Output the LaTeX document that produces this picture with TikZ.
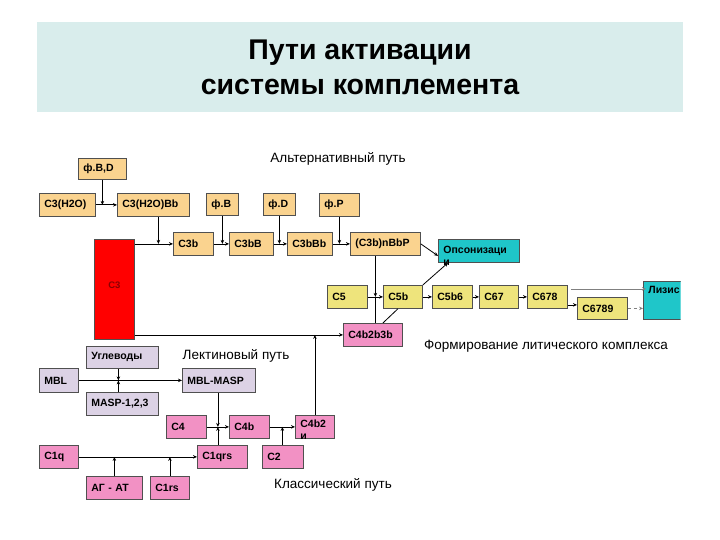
\documentclass[tikz,border=0pt]{standalone}
\usepackage{fontspec}
\setmainfont{Liberation Sans}
\usetikzlibrary{positioning, arrows.meta}
\definecolor{titlebg}{HTML}{D9EDEC}
\definecolor{altfill}{HTML}{FAD38F}
\definecolor{lytfill}{HTML}{EEE47C}
\definecolor{clsfill}{HTML}{F291C4}
\definecolor{lecfill}{HTML}{DCD2E5}
\definecolor{endfill}{HTML}{1FC6C9}
\definecolor{boxline}{HTML}{505050}
\definecolor{c3text}{HTML}{8B0000}
\tikzset{
  cbox/.style={draw=boxline, anchor=north west, inner xsep=5pt, inner ysep=0pt, align=left,
    font=\bfseries\fontsize{10.5}{12.5}\selectfont},
  boxsize/.style 2 args={text width=#1-10, minimum height=#2},
  altbox/.style={cbox, fill=altfill},
  lytbox/.style={cbox, fill=lytfill},
  clsbox/.style={cbox, fill=clsfill},
  lecbox/.style={cbox, fill=lecfill},
  endbox/.style={cbox, fill=endfill},
  pathlabel/.style={inner sep=0pt, font=\fontsize{13.5}{16}\selectfont},
  titleline/.style={anchor=base, inner sep=0pt, font=\bfseries\fontsize{28.5}{35}\selectfont}
}

\begin{document}
\begin{tikzpicture}[x=1pt, y=-1pt, line width=0.8pt, >={Stealth[length=4pt, width=3.5pt]}]

\useasboundingbox (0,0) rectangle (720,540);
\fill[titlebg] (37,22) rectangle (683,112);
\node[titleline] (title1) at (360,60) {Пути активации};
\node[titleline] (title2) at (360,95) {системы комплемента};

\node[pathlabel] (altlabel) at (338,159) {Альтернативный путь};
\node[pathlabel] (leclabel) at (236,356) {Лектиновый путь};
\node[pathlabel] (lytlabel) at (546,346) {Формирование литического комплекса};
\node[pathlabel] (clslabel) at (333,485) {Классический путь};

\node[altbox, boxsize={48}{21}] (fbd) at (78,158) {ф.B,D};
\node[altbox, boxsize={56}{23}] (c3w) at (39,193) {C3(H2O)};
\node[altbox, boxsize={72}{23}] (c3wbb) at (117,193) {C3(H2O)Bb};
\node[altbox, boxsize={32}{22}] (fb) at (206,193) {ф.B};
\node[altbox, boxsize={32}{22}] (fd) at (263,193) {ф.D};
\node[altbox, boxsize={40}{23}] (fp) at (319,193) {ф.P};
\node[altbox, boxsize={40}{23}] (c3b) at (173,232) {C3b};
\node[altbox, boxsize={44}{23}] (c3bB) at (229,232) {C3bB};
\node[altbox, boxsize={45}{23}] (c3bBb) at (287,232) {C3bBb};
\node[altbox, boxsize={70}{23}] (c3bn) at (350,232) {(C3b)nBbP};

\node[cbox, fill=red, minimum width=40, minimum height=100, text=c3text, text depth=8pt,
  font=\bfseries\fontsize{9.5}{11}\selectfont] (c3) at (94,239) {C3};

\node[endbox, boxsize={81}{23}, text height=14pt, text depth=9pt] (ops) at (438,239) {Опсонизаци\\и};
\begin{scope}
\clip (600,270) rectangle (680.5,330);
\node[endbox, boxsize={55}{38}, text height=12pt, text depth=26pt] (lys) at (643,281) {Лизис};
\end{scope}

\node[lytbox, boxsize={40}{23}] (c5) at (327,285) {C5};
\node[lytbox, boxsize={39}{23}] (c5b) at (383,285) {C5b};
\node[lytbox, boxsize={40}{23}] (c5b6) at (432,285) {C5b6};
\node[lytbox, boxsize={39}{23}] (c67) at (479,285) {C67};
\node[lytbox, boxsize={40}{23}] (c678) at (527,285) {C678};
\node[lytbox, boxsize={50}{22}] (c6789) at (577,297) {C6789};

\node[clsbox, boxsize={59}{23}] (c4b2b3b) at (343,323) {C4b2b3b};

\node[lecbox, boxsize={72}{22}] (carb) at (86,346) {Углеводы};
\node[lecbox, boxsize={39}{24}] (mbl) at (39,368) {MBL};
\node[lecbox, boxsize={73}{24}] (mblmasp) at (182,368) {MBL-MASP};
\node[lecbox, boxsize={72}{23}] (masp) at (86,392) {MASP-1,2,3};

\node[clsbox, boxsize={40}{23}] (c4) at (166,415) {C4};
\node[clsbox, boxsize={40}{23}] (c4b) at (229,415) {C4b};
\node[clsbox, boxsize={39}{23}, text height=12pt, text depth=11pt] (c4b2) at (295,415) {C4b2\\и};
\node[clsbox, boxsize={39}{23}] (c1q) at (39,445) {C1q};
\node[clsbox, boxsize={50}{23}] (c1qrs) at (197,445) {C1qrs};
\node[clsbox, boxsize={41}{23}] (c2) at (262,445) {C2};
\node[clsbox, boxsize={56}{23}] (agat) at (86,476) {АГ - АТ};
\node[clsbox, boxsize={39}{23}] (c1rs) at (150,476) {C1rs};

\draw[->] (fbd) -- (fbd |- c3w);
\draw[->] (c3w) -- (c3wbb);
\draw[->] (c3.east |- c3b) -- (c3b);
\draw[->] ([xshift=5pt]c3wbb.south) -- ([xshift=5pt]c3wbb.south |- c3b);
\draw[->] (c3b) -- (c3bB);
\draw[->] (fb) -- (fb |- c3b);
\draw[->] (c3bB) -- (c3bBb);
\draw[->] (fd) -- (fd |- c3b);
\draw[->] (c3bBb) -- (c3bn);
\draw[->] (fp) -- (fp |- c3b);
\draw[->] (c3bn.east) -- ([yshift=-5pt]ops.west);

\draw[->] (c5) -- coordinate (c5j) (c5b);
\draw[->] ([xshift=-10pt]c3bn.south) -- (c5j);
\draw (c4b2b3b.north -| c5j) -- (c5j);
\draw[->] (c5b) -- (c5b6);
\draw[->] (c5b6) -- (c67);
\draw[->] (c67) -- (c678);
\draw ([xshift=-5pt]c5b.south) -- ([xshift=10pt]c4b2b3b.north);
\draw[->] (c5b.north east) -- ([xshift=10pt]ops.south west);
\draw[->, gray] ([xshift=3pt, yshift=8pt]c678.east) -- ([xshift=3pt, yshift=8pt]c678.east -| lys.west);
\draw[->] ([yshift=-8pt]c678.east) -- ([yshift=-8pt]c678.east -| c6789.west);
\draw[->, gray, dashed] (c6789) -- (c6789 -| lys.west);

\draw[->] (c3.east |- c4b2b3b) -- (c4b2b3b);
\draw[->] (c4b2) -- (c4b2 |- c4b2b3b);

\draw[->] ([xshift=-4pt]carb.south) -- ([xshift=-4pt]carb.south |- mbl);
\draw[->] ([xshift=-4pt]masp.north) -- ([xshift=-4pt]masp.north |- mbl);
\draw[->] (mbl) -- (mblmasp);

\draw[->] (c4) -- coordinate (c4j) (c4b);
\draw[->] (mblmasp.south -| c4j) -- (c4j);
\draw[->] (c1qrs.north -| c4j) -- (c4j);
\draw[->] (c4b) -- coordinate (c4bj) (c4b2);
\draw[->] (c2.north -| c4bj) -- (c4bj);
\draw[->] (c1q) -- (c1qrs);
\draw[->] (agat) -- (agat |- c1q);
\draw[->] (c1rs) -- (c1rs |- c1q);

\end{tikzpicture}
\end{document}
